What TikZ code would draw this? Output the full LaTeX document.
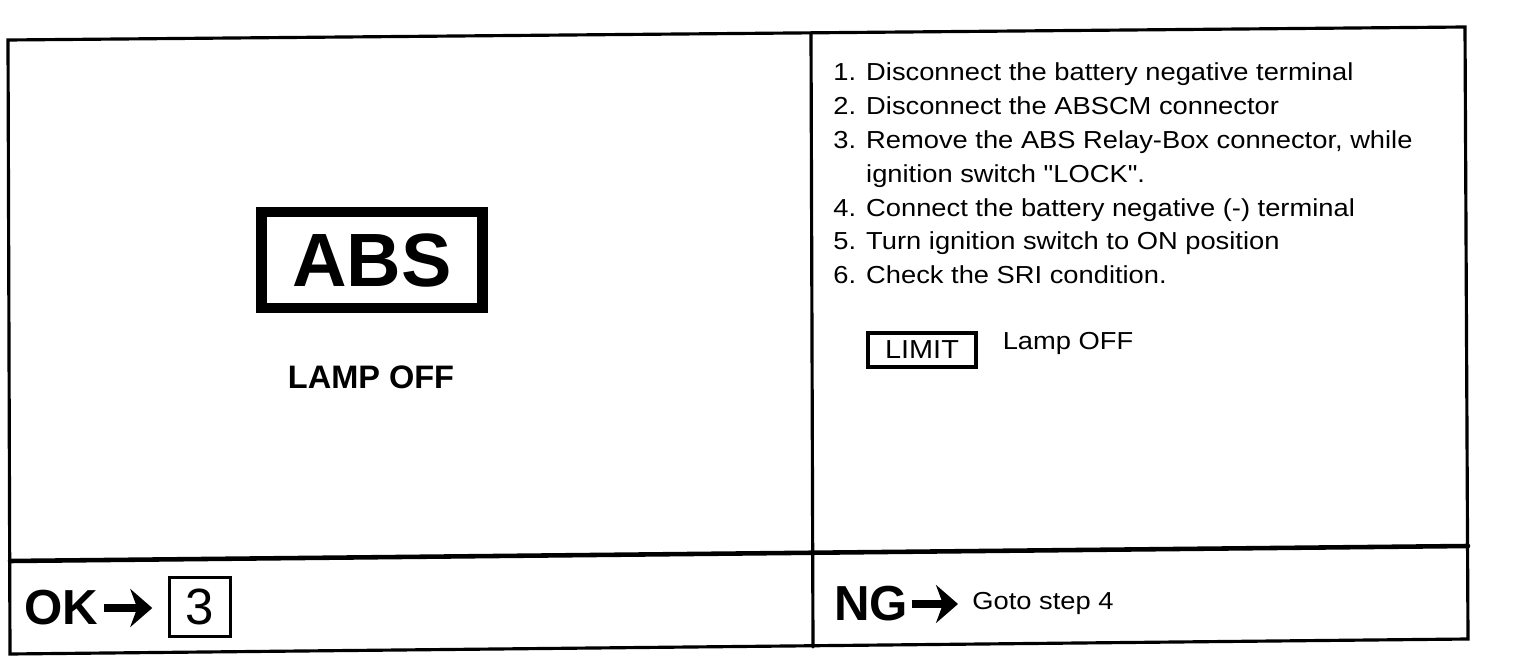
\documentclass[tikz,border=0pt]{standalone}
\usepackage{fontspec}
\setmainfont{Liberation Sans}
\newfontfamily\stepfont[FakeStretch=1.11]{Liberation Sans}
\usetikzlibrary{arrows.meta, positioning}

\begin{document}
\begin{tikzpicture}[
    x=0.02cm, y=-0.02cm,
    frame/.style={line width=1.8pt, line cap=round},
    divider/.style={line width=2.6pt, line cap=round},
    steptext/.style={font=\stepfont\fontsize{14}{16}\selectfont, anchor=base west, inner sep=0pt},
    bigword/.style={font=\bfseries\fontsize{28}{30}\selectfont, anchor=west, inner sep=0pt},
    bigarrow/.style={-{Stealth[length=4.4mm, width=7.6mm, inset=1.4mm]}, line width=5pt},
    absbox/.style={draw, line width=6.2pt, inner sep=0pt,
        minimum width=221*\px, minimum height=96*\px,
        font=\bfseries\fontsize{43}{45}\selectfont},
    limitbox/.style={draw, line width=2.8pt, inner sep=0pt,
        minimum width=108*\px, minimum height=34*\px,
        font=\stepfont\fontsize{14.8}{16}\selectfont},
    numbox/.style={draw, line width=1.4pt, inner sep=0pt,
        minimum width=61*\px, minimum height=59*\px,
        font=\fontsize{29}{30}\selectfont}
]
    % 1 unit = 1 px of the scan
    \def\px{0.02cm}
    \useasboundingbox (0,0) rectangle (1536,662);

    % Frame (scan is slightly tilted)
    \coordinate (tl) at (8,40);
    \coordinate (tr) at (1465,27);
    \coordinate (br) at (1468,639);
    \coordinate (bl) at (10,654);
    \draw[frame] (tl) -- (tr) -- (br) -- (bl) -- cycle;
    \coordinate (vt) at (811,33);
    \coordinate (vb) at (813,647);
    \draw[frame] (vt) -- (vb);
    \coordinate (ml) at (10,561);
    \coordinate (mr) at (1468,546);
    \draw[divider] (ml) -- (mr);

    % Left panel: warning lamp
    \node[absbox] (abs) at (372,260) {ABS};
    \node[font=\bfseries\fontsize{18.5}{20}\selectfont] (lampL) at (371,377) {LAMP OFF};

    % Right panel: procedure
    \foreach \line [count=\k from 0] in {
        {1. Disconnect the battery negative terminal},
        {2. Disconnect the ABSCM connector},
        {3. Remove the ABS Relay-Box connector, while},
        {\phantom{3. }ignition switch "LOCK".},
        {4. Connect the battery negative (-) terminal},
        {5. Turn ignition switch to ON position},
        {6. Check the SRI condition.}}{
        \node[steptext] (step\k) at (833,81+\k*33.8) {\line};
    }
    \node[limitbox] (limit) at (922,350) {LIMIT};
    \node[steptext, right=24*\px of limit.east, anchor=base west] (lampR) {Lamp OFF};

    % Results
    \node[bigword] (ok) at (24,608) {OK};
    \node[numbox] (three) at (200,607) {3};
    \draw[bigarrow, shorten <=0.12cm, shorten >=0.32cm] (ok.east) -- (ok.east -| three.west);

    \node[bigword] (ng) at (834,604) {NG};
    \node[steptext, anchor=west] (goto) at (972,603) {Goto step 4};
    \draw[bigarrow, shorten <=0.06cm, shorten >=0.28cm] (ng.east) -- (ng.east -| goto.west);
\end{tikzpicture}
\end{document}
